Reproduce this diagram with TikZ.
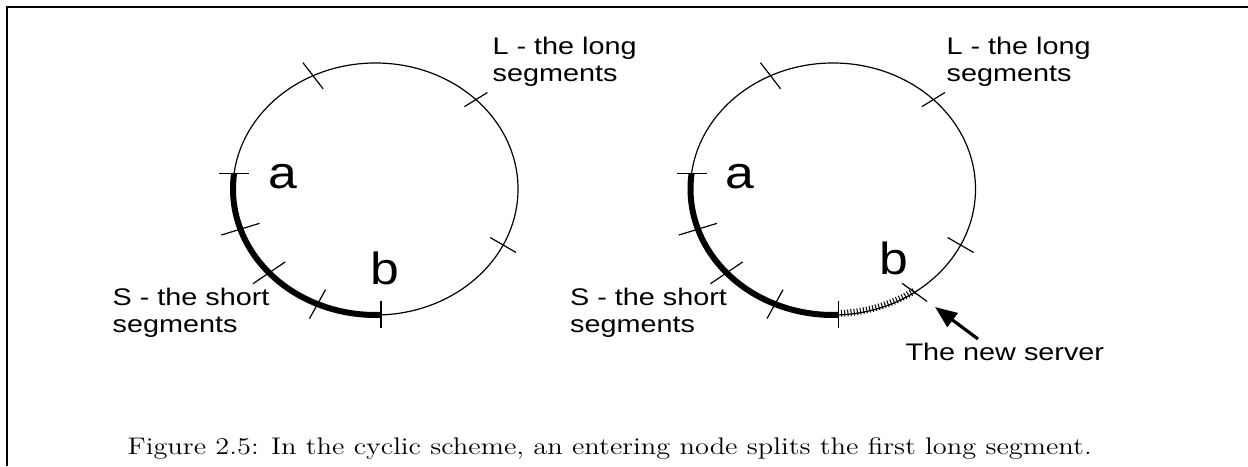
\documentclass[tikz,border=0pt]{standalone}
\usepackage{graphicx}
\usepackage{fontspec}
\newfontfamily\lblfont{Liberation Sans}
\usetikzlibrary{calc,arrows.meta,decorations.pathreplacing}

% one server mark on a ring: centre, angle on the ring, direction, half length
\newcommand{\segtick}[4]{%
  \draw[shift={($(#1)+(#2:142.5 and 126)$)}] (#3:#4) -- (#3+180:#4);}
% the lettering of the figure is drawn a little wide
\newcommand{\wide}[2][1.2]{\scalebox{#1}[1]{#2}}

\begin{document}
\begin{tikzpicture}[x=0.5pt, y=0.5pt, line width=0.6pt,
  every node/.style={inner sep=0pt},
  lbl/.style={font=\lblfont\fontsize{12}{13.5}\selectfont, align=left, anchor=base west},
  pt/.style={font=\lblfont\fontsize{22.5}{27}\selectfont, anchor=base west},
  shortarc/.style={line width=3pt},
  newarc/.style={line width=0.5pt, decorate,
    decoration={ticks, segment length=1.6pt, amplitude=1.7pt, raise=0.7pt}}]
  \useasboundingbox (0,0) rectangle (1248,466);

  % frame
  \draw[line width=0.8pt] (7,0) -- (7,459) -- (1248,459);

  \coordinate (L) at (375.5,277);
  \coordinate (R) at (833,277);

  % both rings with their marks
  \foreach \c in {L,R} {
    \draw (\c) ellipse[x radius=142.5, y radius=126];
    \draw[shortarc] ($(\c)+(173:142.5 and 126)$)
      arc[start angle=173, end angle=272.2, x radius=142.5, y radius=126];
    \segtick{\c}{116}{127.6}{16.5}
    \segtick{\c}{45.2}{31.6}{13.5}
    \segtick{\c}{-26.4}{-30}{15}
    \segtick{\c}{-87.8}{90}{13.5}
    \segtick{\c}{173}{0}{15}
    \segtick{\c}{198.6}{17}{20}
    \segtick{\c}{221.7}{34}{19.5}
    \segtick{\c}{246}{61}{16.5}
  }

  % left ring
  \node[pt] (la) at (268,277) {\wide[1.15]{a}};
  \node[pt] (lb) at (370,181) {\wide[1.15]{b}};
  \node[lbl] (lS) at (112,133) {\wide{S - the short}\\\wide{segments}};
  \node[lbl] (lL) at (492,384) {\wide{L - the long}\\\wide{segments}};

  % right ring, after the new server
  \draw[newarc] ($(R)+(272.2:142.5 and 126)$)
    arc[start angle=272.2, end angle=304.9, x radius=142.5, y radius=126];
  \segtick{R}{-55.1}{-36}{15.5}
  \node[pt] (ra) at (725,277) {\wide[1.15]{a}};
  \node[pt] (rb) at (879,191) {\wide[1.15]{b}};
  \node[lbl] (rS) at (569.5,133) {\wide{S - the short}\\\wide{segments}};
  \node[lbl] (rL) at (946,384) {\wide{L - the long}\\\wide{segments}};
  \node[lbl] (srv) at (905,105) {\wide{The new server}};
  \coordinate (newtip) at (935,159);
  \draw[line width=1.6pt, -{Triangle[length=11pt, width=8.5pt]}]
    ($(srv.north west)+(73,4)$) -- (newtip);

  % caption
  \node[anchor=base west, font=\fontsize{12}{14}\selectfont] (cap) at (127,11)
    {\wide[1.185]{Figure 2.5: In the cyclic scheme, an entering node splits the first long segment.}};
\end{tikzpicture}
\end{document}
